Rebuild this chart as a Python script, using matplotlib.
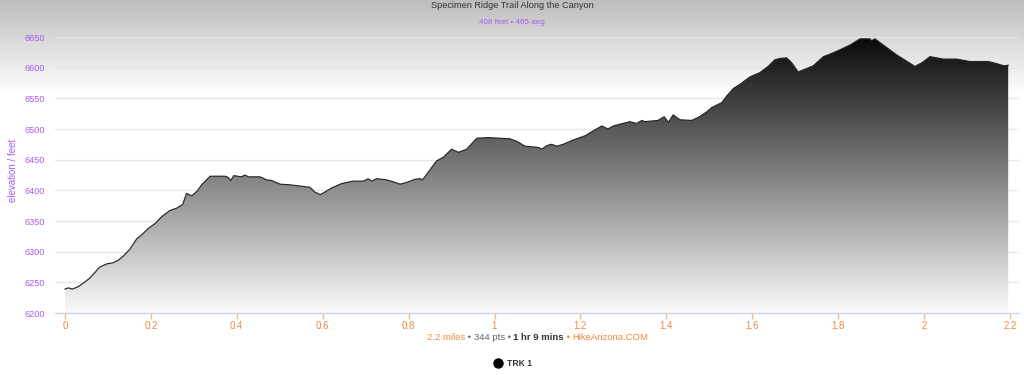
import numpy as np
import matplotlib
matplotlib.use('Agg')
import matplotlib.pyplot as plt
from matplotlib.colors import LinearSegmentedColormap

# elevation profile
miles = [0.000, 0.008, 0.017, 0.031, 0.047, 0.058, 0.081, 0.097, 0.112, 0.124,
         0.136, 0.151, 0.167, 0.178, 0.194, 0.210, 0.225, 0.244, 0.260, 0.274,
         0.283, 0.295, 0.308, 0.318, 0.338, 0.373, 0.380, 0.386, 0.393, 0.411,
         0.419, 0.427, 0.454, 0.470, 0.481, 0.501, 0.524, 0.547, 0.570, 0.582,
         0.595, 0.621, 0.644, 0.671, 0.695, 0.706, 0.714, 0.726, 0.749, 0.764,
         0.780, 0.796, 0.815, 0.827, 0.831, 0.837, 0.865, 0.881, 0.900, 0.916,
         0.935, 0.959, 0.986, 1.036, 1.052, 1.071, 1.102, 1.110, 1.122, 1.133,
         1.145, 1.160, 1.183, 1.199, 1.211, 1.230, 1.250, 1.264, 1.277, 1.315,
         1.331, 1.343, 1.350, 1.381, 1.395, 1.405, 1.416, 1.432, 1.459, 1.475,
         1.494, 1.506, 1.529, 1.541, 1.556, 1.572, 1.595, 1.618, 1.637, 1.653,
         1.665, 1.680, 1.692, 1.707, 1.742, 1.766, 1.781, 1.804, 1.828, 1.851,
         1.874, 1.878, 1.886, 1.905, 1.936, 1.979, 1.995, 2.014, 2.045, 2.076,
         2.107, 2.150, 2.167, 2.186, 2.196]
elevation = [6239, 6241, 6239, 6243, 6251, 6257, 6275, 6280, 6282, 6286,
             6293, 6304, 6321, 6327, 6338, 6346, 6357, 6367, 6371, 6377,
             6395, 6391, 6399, 6409, 6423, 6423, 6421, 6416, 6424, 6422,
             6425, 6422, 6422, 6417, 6416, 6410, 6409, 6407, 6405, 6397,
             6393, 6404, 6411, 6415, 6415, 6419, 6415, 6419, 6417, 6414,
             6410, 6413, 6418, 6419, 6417, 6421, 6448, 6454, 6467, 6462,
             6467, 6485, 6486, 6484, 6480, 6472, 6470, 6467, 6473, 6475,
             6472, 6475, 6482, 6486, 6489, 6497, 6505, 6500, 6505, 6512,
             6509, 6514, 6512, 6514, 6520, 6511, 6523, 6515, 6514, 6519,
             6528, 6535, 6543, 6554, 6566, 6573, 6585, 6592, 6602, 6613,
             6615, 6616, 6608, 6593, 6603, 6618, 6622, 6629, 6637, 6647,
             6647, 6644, 6647, 6637, 6621, 6602, 6608, 6618, 6614, 6614,
             6610, 6610, 6607, 6603, 6604]

x_ticks = [0, 0.2, 0.4, 0.6, 0.8, 1, 1.2, 1.4, 1.6, 1.8, 2, 2.2]
x_tick_labels = ['0', '0.2', '0.4', '0.6', '0.8', '1', '1.2', '1.4', '1.6', '1.8', '2', '2.2']
y_ticks = [6200, 6250, 6300, 6350, 6400, 6450, 6500, 6550, 6600, 6650]

title = 'Specimen Ridge Trail Along the Canyon'
subtitle = '408 feet \u2022 465 aeg'
series_name = 'TRK 1'

purple = '#a45ef2'
orange = '#f0883e'
font = ['Liberation Sans', 'DejaVu Sans']
plt.rcParams['font.family'] = font

W, H = 1024, 375
fig = plt.figure(figsize=(W / 100, H / 100), dpi=100)

# background gradient at the top of the figure
bg = fig.add_axes([0, 0, 1, 1], zorder=-5)
bg.axis('off')
col = np.where(np.arange(H) < 95, 0.74 + (1 - 0.74) * (np.arange(H) / 95.0), 1.0)
bg.imshow(np.tile(col[:, None], (1, 4)), cmap='gray', vmin=0, vmax=1,
          aspect='auto', extent=[0, 1, 0, 1], origin='upper')
bg.set_xlim(0, 1)
bg.set_ylim(0, 1)

left, right = 55 / W, 1019 / W
bottom, top = (H - 313) / H, (H - 37) / H
ax = fig.add_axes([left, bottom, right - left, top - bottom])
ax.patch.set_alpha(0)

x0 = -10 / 429.5
x1 = (1019 - 65) / 429.5

# area with vertical gradient
poly = ax.fill_between(miles, elevation, 6200, color='none', lw=0)
cmap = LinearSegmentedColormap.from_list('g', ['#fafafa', '#000000'])
grad = np.linspace(0, 1, 256)[:, None]
img = ax.imshow(grad, cmap=cmap, aspect='auto', origin='lower',
                extent=[x0, x1, 6200, 6665], zorder=2)
img.set_clip_path(poly.get_paths()[0], transform=ax.transData)
ax.set_ylim(6200, 6650)
ax.set_xlim(x0, x1)
ax.plot(miles, elevation, color='#262626', lw=0.85, zorder=3)

for v in y_ticks[1:]:
    ax.axhline(v, color='#e6e6e6', lw=1, zorder=1)

for s in ['top', 'right', 'left']:
    ax.spines[s].set_visible(False)
ax.spines['bottom'].set_color('#ccd6eb')
ax.spines['bottom'].set_linewidth(1)

ax.set_xticks(x_ticks)
ax.set_xticklabels(x_tick_labels)
ax.tick_params(axis='x', colors=orange, length=4, width=1, pad=1.5,
               labelsize=7)
ax.tick_params(axis='x', color='#f5b78c')
ax.set_yticks(y_ticks)
ax.tick_params(axis='y', length=0, labelcolor=purple, labelsize=6.6, pad=7)
ax.set_ylabel('elevation / feet', color=purple, fontsize=7)
ax.yaxis.set_label_coords(-(55 - 18.5) / (1019 - 55), 0.515)

fig.text(512 / W, 1 - 6 / H, title, ha='center', va='center', fontsize=6.6,
         color='#333333')
fig.text(512 / W, 1 - 22 / H, subtitle, ha='center', va='center', fontsize=5.8,
         color=purple)

# footer with mixed colours, centred as a group
pieces = [('2.2 miles', orange, 'normal'), (' \u2022 ', '#666666', 'normal'),
          ('344 pts', '#666666', 'normal'), (' \u2022 ', '#666666', 'normal'),
          ('1 hr 9 mins', '#333333', 'bold'), (' \u2022 ', orange, 'normal'),
          ('HikeArizona.COM', orange, 'normal')]
renderer = fig.canvas.get_renderer()
texts = []
widths = []
for s, c, w in pieces:
    t = fig.text(0, 1 - 338 / H, s, ha='left', va='center', fontsize=6.8,
                 color=c, fontweight=w)
    widths.append(t.get_window_extent(renderer).width)
    texts.append(t)
total = sum(widths)
xpos = 537.5 - total / 2
for t, wd in zip(texts, widths):
    t.set_x(xpos / W)
    xpos += wd

# legend
fig.add_artist(plt.Line2D([498 / W], [1 - 363 / H], marker='o', color='black',
                          markersize=6.5, lw=0))
fig.text(507 / W, 1 - 363 / H, series_name, ha='left', va='center',
         fontsize=6.2, fontweight='bold', color='#333333')

fig.savefig('out.png', dpi=100)
